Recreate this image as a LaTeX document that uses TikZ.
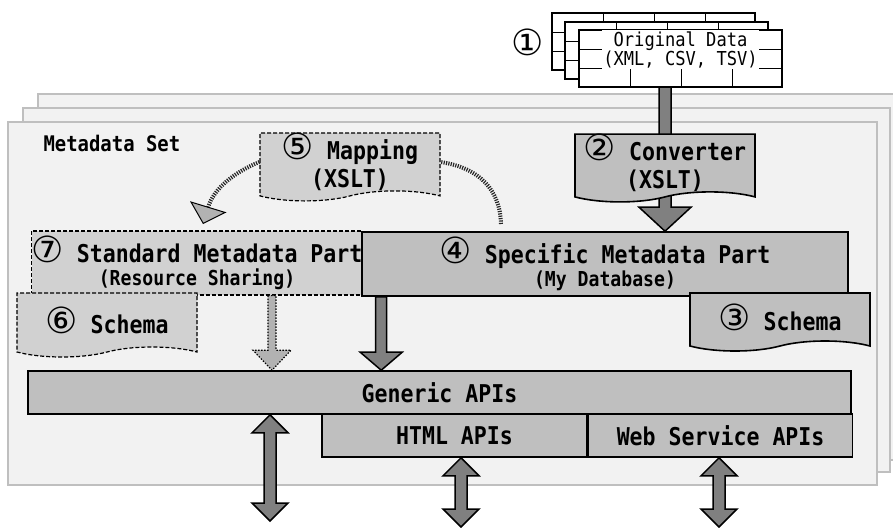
\documentclass[tikz,border=0pt]{standalone}
\usepackage{fontspec}
\newfontfamily\gfont[FakeStretch=0.88]{DejaVu Sans Mono Bold}
\newfontfamily\sfont[FakeStretch=0.89]{DejaVu Sans Mono}
\newfontfamily\cfont{DejaVu Sans}
\usetikzlibrary{calc}
\usetikzlibrary{positioning}
\usetikzlibrary{arrows.meta}
\usetikzlibrary{shapes.symbols}

\newcommand{\fmain}{\gfont\fontsize{24.5}{28}\selectfont}
\newcommand{\fsmall}{\gfont\fontsize{20.6}{23}\selectfont}
\newcommand{\fsheet}{\sfont\fontsize{19.2}{19}\selectfont}
\newcommand{\cn}[1]{{\cfont\fontsize{36}{28}\selectfont #1}}

\tikzset{
  ashaft/.store in=\ashaft, ahead/.store in=\ahead, alen/.store in=\alen,
  ashaft=6pt, ahead=20pt, alen=18pt,
  down arrow/.style={to path={let \p1=(\tikztostart), \p2=(\tikztotarget) in
    (\x1-\ashaft,\y1) -- (\x1-\ashaft,\y2+\alen) -- (\x1-\ahead,\y2+\alen) -- (\x1,\y2)
    -- (\x1+\ahead,\y2+\alen) -- (\x1+\ashaft,\y2+\alen) -- (\x1+\ashaft,\y1) -- cycle}},
  both arrow/.style={to path={let \p1=(\tikztostart), \p2=(\tikztotarget) in
    (\x1,\y1) -- (\x1+\ahead,\y1-\alen) -- (\x1+\ashaft,\y1-\alen) -- (\x1+\ashaft,\y2+\alen)
    -- (\x1+\ahead,\y2+\alen) -- (\x1,\y2) -- (\x1-\ahead,\y2+\alen) -- (\x1-\ashaft,\y2+\alen)
    -- (\x1-\ashaft,\y1-\alen) -- (\x1-\ahead,\y1-\alen) -- cycle}},
  panel/.style={fill=black!5, draw=black!25, line width=2pt},
  sheet/.style={fill=white, draw=black, line width=2pt},
  cell/.style={draw=black, line width=0.8pt},
  box/.style={fill=black!25, draw=black, line width=1.6pt, font=\fmain, align=center, inner sep=0pt},
  dbox/.style={fill=black!18, draw=black, line width=1.2pt, dash pattern=on 4pt off 2pt,
    font=\fmain, align=center, inner sep=0pt},
  doc/.style={shape=tape, tape bend top=none, tape bend bottom=in and out, tape bend height=10pt},
  solidarrow/.style={fill=black!50, draw=black, line width=1.5pt},
  dotarrow/.style={fill=black!30, draw=black, line width=1.2pt, dash pattern=on 1.5pt off 1.5pt},
  dotline/.style={draw=black!85, line width=4pt, dash pattern=on 1.2pt off 1.2pt},
}

\begin{document}
\begin{tikzpicture}[x=1pt, y=-1pt]

  \fill[white] (0,0) rectangle (893,527);
  \useasboundingbox (0,0) rectangle (893,527);

  % stacked metadata sets
  \draw[panel] (38,94) rectangle (905,460);
  \draw[panel] (23,108) rectangle (890,472);
  \draw[panel] (8,122) rectangle (877,485);
  \node[anchor=west, font=\gfont\fontsize{21.5}{24}\selectfont] (set) at (40,143) {Metadata Set};

  % original data sheets
  \foreach \dx/\dy in {0/0, 13/9, 27/17} {
    \draw[sheet] (552+\dx,13+\dy) rectangle ++(203,57);
    \foreach \i in {1,2,3}
      \draw[cell] (552+\dx+51*\i,13+\dy) -- ++(0,57);
    \foreach \j in {1,2}
      \draw[cell] (552+\dx,13+\dy+19*\j) -- ++(203,0);
  }
  \path (579,30) rectangle (782,87) coordinate (orig);
  \node[fill=white, inner sep=1pt, align=center, font=\fsheet] (data) at (680.5,49.5) {Original Data\\(XML, CSV, TSV)};
  \node (n1) at (528,42) {\cn{①}};

  \node[doc, dbox, minimum width=180, minimum height=62] (map) at (350,162) {\cn{⑤} Mapping\\(XSLT)};

  \node[dbox, minimum width=330, minimum height=64] (std) at (197,263) {\cn{⑦} Standard Metadata Part\\[-5pt]{\fsmall(Resource Sharing)}};
  \node[box, minimum width=486, minimum height=64] (spec) at (605,264) {\cn{④} Specific Metadata Part\\[-5pt]{\fsmall(My Database)}};

  \coordinate (a1) at ($(orig)+(-117,0)$);
  \draw[solidarrow, ashaft=6pt, ahead=26pt, alen=24pt] (a1) to[down arrow] (a1 |- spec.north);
  \node[doc, box, minimum width=180, minimum height=62] (conv) at (665,163) {\cn{②} Converter\\(XSLT)};

  % mapping flow
  \coordinate (top4) at (501,224);
  \coordinate (tip7) at (203,224);
  \draw[dotline] (top4) .. controls (500,190) and (480,168) .. (map.east);
  \draw[dotline, -{Triangle[width=38pt, length=18pt, fill=black!30, color=black, line width=1pt]}]
    (map.west) .. controls (235,172) and (214,188) .. (tip7);

  \node[doc, dbox, minimum width=180, minimum height=64] (sch6) at (107,320) {\cn{⑥} Schema};
  \node[doc, box, minimum width=180, minimum height=58] (sch3) at (780,317) {\cn{③} Schema};

  \node[box, minimum width=823, minimum height=43] (gen) at (439.5,392.5) {Generic APIs};
  \node[box, minimum width=265, minimum height=43] (html) at (454.5,435.5) {HTML APIs};
  \node[box, minimum width=264, minimum height=43, right=0pt of html] (web) {Web Service APIs};

  \coordinate (s2) at ($(spec.south west)+(20,0)$);
  \draw[solidarrow, ashaft=5.5pt, ahead=21pt, alen=18pt] (s2) to[down arrow] (s2 |- gen.north);
  \coordinate (s3) at ($(std.south west)+(241,0)$);
  \draw[dotarrow, ashaft=4pt, ahead=19pt, alen=20pt] (s3) to[down arrow] (s3 |- gen.north);

  % access
  \coordinate (out1) at (270,521);
  \coordinate (out2) at (461,527);
  \coordinate (out3) at (719,527);
  \draw[solidarrow, ashaft=6pt, ahead=18pt, alen=18pt] (out1 |- gen.south) to[both arrow] (out1);
  \draw[solidarrow, ashaft=6pt, ahead=18pt, alen=18pt] (out2 |- html.south) to[both arrow] (out2);
  \draw[solidarrow, ashaft=6pt, ahead=18pt, alen=18pt] (out3 |- web.south) to[both arrow] (out3);

\end{tikzpicture}
\end{document}
